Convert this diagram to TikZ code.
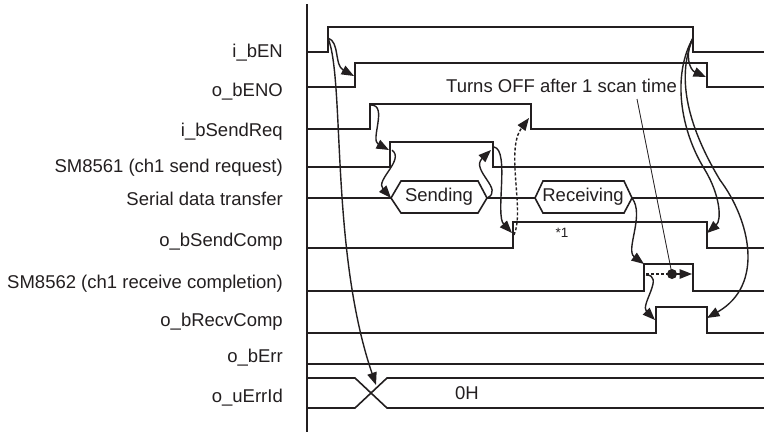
\documentclass[tikz,border=0pt]{standalone}
\usepackage{fontspec}
\setmainfont{Liberation Sans}
\usetikzlibrary{arrows.meta}
\definecolor{ink}{HTML}{231F20}
\begin{document}
\begin{tikzpicture}[x=1pt,y=-1pt,
  sig/.style={draw=ink,line width=1.6pt,line join=miter},
  carr/.style={draw=ink,line width=1.4pt,-{Triangle[length=12.5pt,width=9.5pt]}},
  darr/.style={carr,dash pattern=on 3pt off 2pt},
  lbl/.style={anchor=base east,inner sep=0pt,text=ink,font=\fontsize{18.5}{22}\selectfont},
  txt/.style={inner sep=0pt,text=ink,font=\fontsize{18.5}{22}\selectfont}]
\useasboundingbox (0,0) rectangle (764,432);
\fill[white] (0,0) rectangle (764,432);

% axis
\draw[ink,line width=1.6pt] (307,4) -- (307,432);

% labels
\node[lbl] (l1) at (283,57) {i\_bEN};
\node[lbl] (l2) at (283,96) {o\_bENO};
\node[lbl] (l3) at (283,136) {i\_bSendReq};
\node[lbl] (l4) at (283,172) {SM8561 (ch1 send request)};
\node[lbl] (l5) at (283,205) {Serial data transfer};
\node[lbl] (l6) at (283,246) {o\_bSendComp};
\node[lbl] (l7) at (283,288) {SM8562 (ch1 receive completion)};
\node[lbl] (l8) at (283,326) {o\_bRecvComp};
\node[lbl] (l9) at (283,362) {o\_bErr};
\node[lbl] (l10) at (283,402) {o\_uErrId};

% signals
\draw[sig] (307,52)--(328,52)--(328,27)--(693,27)--(693,52)--(764,52);
\draw[sig] (307,87)--(355,87)--(355,63)--(707,63)--(707,87)--(764,87);
\draw[sig] (307,129)--(370,129)--(370,104)--(531,104)--(531,129)--(764,129);
\draw[sig] (307,167)--(390,167)--(390,142)--(493,142)--(493,167)--(764,167);
\draw[sig] (307,198)--(391,198);
\draw[sig] (391,198)--(401,181)--(478,181)--(487,198)--(478,213)--(401,213)--cycle;
\draw[sig] (487,198)--(535,198);
\draw[sig] (535,198)--(543,181)--(624,181)--(632,198)--(624,213)--(543,213)--cycle;
\draw[sig] (632,198)--(764,198);
\draw[sig] (307,248)--(513,248)--(513,222)--(707,222)--(707,248)--(764,248);
\draw[sig] (307,291)--(644,291)--(644,264)--(693,264)--(693,291)--(764,291);
\draw[sig] (307,333)--(656,333)--(656,307)--(707,307)--(707,333)--(764,333);
\draw[sig] (307,364)--(764,364);
\draw[sig] (307,378)--(355,378)--(387,408)--(764,408);
\draw[sig] (307,408)--(355,408)--(387,378)--(764,378);

% texts
\node[txt] (send) at (439,197) {Sending};
\node[txt] (recv) at (583,197) {Receiving};
\node[txt] (zero) at (467,393) {0H};
\node[inner sep=0pt,text=ink,font=\fontsize{13.5}{15}\selectfont] (note) at (562,233) {*1};
\node[lbl] (turns) at (677,92) {Turns OFF after 1 scan time};

% coordinates
\coordinate (enR) at (328,38);
\coordinate (enoR) at (354,76);
\coordinate (errX) at (376,385);
\coordinate (reqR) at (371,105);
\coordinate (smR) at (389,150);
\coordinate (smR2) at (392,150);
\coordinate (sendL) at (391,198);
\coordinate (sendRt) at (487,198);
\coordinate (smF) at (491,150);
\coordinate (smF2) at (494,147);
\coordinate (scR) at (512,233);
\coordinate (scR2) at (514,235);
\coordinate (reqF) at (529,118);
\coordinate (recvRt) at (632,198);
\coordinate (s62R) at (644,264);
\coordinate (s62R2) at (646,275);
\coordinate (rcR) at (655,320);
\coordinate (dstart) at (646,274);
\coordinate (dot) at (672,274);
\coordinate (s62F) at (692,274);
\coordinate (lead) at (637,99);
\coordinate (enF) at (693,38);
\coordinate (enoF) at (706,77);
\coordinate (scF) at (707,233);
\coordinate (rcF) at (707,318);

% connectors
\draw[carr] (enR) .. controls (340,42) and (334,65) .. (enoR);
\draw[carr] (enR) .. controls (345,80) and (330,250) .. (errX);
\draw[carr] (reqR) .. controls (388,105) and (370,140) .. (smR);
\draw[carr] (smR2) .. controls (405,160) and (375,180) .. (sendL);
\draw[carr] (sendRt) .. controls (505,190) and (470,170) .. (smF);
\draw[carr] (smF2) .. controls (510,150) and (495,215) .. (scR);
\draw[darr] (scR2) .. controls (525,210) and (505,150) .. (reqF);
\draw[carr] (recvRt) .. controls (645,215) and (625,250) .. (s62R);
\draw[carr] (s62R2) .. controls (665,275) and (640,305) .. (rcR);
\draw[ink,line width=1.4pt,dash pattern=on 3pt off 2pt] (dstart) -- (dot);
\draw[carr] (dot) -- (s62F);
\fill[ink] (dot) circle (5pt);
\draw[ink,line width=0.8pt] (lead) -- (dot);
\draw[carr] (enF) .. controls (684,55) and (690,70) .. (enoF);
\draw[carr] (enF) .. controls (672,75) and (680,130) .. (705,170) .. controls (720,195) and (722,220) .. (scF);
\draw[carr] (enF) .. controls (675,80) and (690,130) .. (720,180) .. controls (750,220) and (765,285) .. (rcF);
\end{tikzpicture}
\end{document}
